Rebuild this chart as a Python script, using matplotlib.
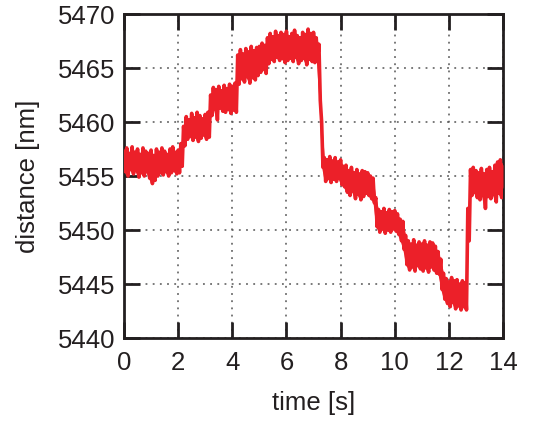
import numpy as np
import matplotlib
matplotlib.use("Agg")
import matplotlib.pyplot as plt

plt.rcParams['font.family'] = ['Liberation Sans', 'DejaVu Sans']

# Sample times of the trace envelope [s], one sample every 0.1 s
time_s = [round(0.1 * k, 1) for k in range(141)]

# Upper excursions of the measured distance [nm] at each sample time
dist_upper = [
    5457.3, 5457.6, 5457.1, 5457.7, 5457.2, 5457.5, 5457.0, 5457.6, 5457.3, 5457.1,
    5457.4, 5456.9, 5457.5, 5457.2, 5457.6, 5457.3, 5457.0, 5457.5, 5457.7, 5457.2,
    5457.4, 5458.0, 5459.6, 5460.5, 5460.2, 5460.8, 5460.4, 5460.9, 5460.6, 5460.3,
    5460.7, 5460.9, 5462.5, 5463.2, 5463.0, 5463.3, 5462.9, 5463.4, 5463.1, 5463.5,
    5463.3, 5463.6, 5466.2, 5466.7, 5466.3, 5466.8, 5466.5, 5467.0, 5466.6, 5466.9,
    5467.0, 5467.3, 5467.1, 5467.8, 5468.2, 5467.9, 5468.4, 5468.0, 5468.3, 5468.1,
    5468.4, 5467.9, 5468.2, 5468.5, 5468.0, 5467.8, 5468.3, 5468.1, 5468.6, 5468.2,
    5468.3, 5467.8, 5467.2, 5460.0, 5456.7, 5456.5, 5456.8, 5456.4, 5456.7, 5456.3,
    5456.5, 5455.9, 5456.0, 5455.5, 5455.8, 5455.3, 5455.6, 5455.2, 5455.5, 5455.4,
    5455.3, 5455.0, 5454.8, 5453.0, 5451.9, 5451.7, 5452.0, 5451.6, 5451.9, 5451.7,
    5451.8, 5451.5, 5451.0, 5450.8, 5449.5, 5449.0, 5448.7, 5449.1, 5448.6, 5448.9,
    5448.7, 5449.0, 5448.6, 5448.9, 5448.8, 5448.5, 5448.0, 5447.3, 5446.0, 5445.5,
    5445.2, 5445.6, 5445.3, 5445.4, 5445.0, 5445.3, 5445.1, 5452.0, 5455.6, 5455.8,
    5455.5, 5455.3, 5455.7, 5455.2, 5455.6, 5455.8, 5455.4, 5456.0, 5456.3, 5456.5,
    5456.0,
]

# Lower excursions of the measured distance [nm], half a sample later
dist_lower = [
    5455.4, 5455.0, 5455.6, 5455.2, 5455.5, 5454.9, 5455.3, 5455.0, 5455.4, 5454.8,
    5454.3, 5454.6, 5455.0, 5455.3, 5455.1, 5455.4, 5455.0, 5455.3, 5455.5, 5455.2,
    5455.3, 5455.9, 5457.8, 5458.4, 5458.7, 5458.3, 5458.6, 5458.2, 5458.5, 5458.8,
    5458.4, 5458.6, 5460.6, 5461.2, 5460.2, 5461.3, 5461.0, 5460.9, 5461.2, 5460.8,
    5461.1, 5460.9, 5463.5, 5464.0, 5463.7, 5464.2, 5463.6, 5464.1, 5463.9, 5464.3,
    5464.6, 5464.9, 5464.5, 5465.4, 5465.8, 5465.6, 5466.0, 5465.7, 5465.9, 5465.5,
    5465.7, 5465.9, 5465.6, 5466.0, 5465.4, 5465.7, 5465.9, 5465.3, 5465.8, 5465.6,
    5465.5, 5465.8, 5462.0, 5455.8, 5454.5, 5454.8, 5454.4, 5454.7, 5454.5, 5454.8,
    5454.2, 5454.0, 5453.5, 5453.2, 5453.6, 5452.9, 5453.3, 5452.8, 5453.1, 5453.4,
    5453.2, 5452.9, 5452.5, 5450.3, 5449.8, 5450.1, 5449.7, 5450.0, 5449.8, 5450.1,
    5449.9, 5449.6, 5449.0, 5448.2, 5446.8, 5446.3, 5446.6, 5446.2, 5446.7, 5446.4,
    5446.2, 5446.5, 5446.1, 5446.6, 5446.3, 5446.0, 5445.9, 5444.5, 5443.6, 5443.2,
    5442.9, 5443.3, 5442.7, 5443.0, 5442.6, 5442.9, 5442.6, 5449.0, 5453.2, 5453.5,
    5453.0, 5452.8, 5453.2, 5452.0, 5453.1, 5452.9, 5453.3, 5452.6, 5453.4, 5453.0,
    5454.0,
]

x_ticks = [0, 2, 4, 6, 8, 10, 12, 14]
y_ticks = [5440, 5445, 5450, 5455, 5460, 5465, 5470]

TRACE_RED = '#ec2029'

# Interleave the upper and lower excursions into one continuous trace
t_trace = []
d_trace = []
for t, hi, lo in zip(time_s, dist_upper, dist_lower):
    t_trace += [t, t + 0.05]
    d_trace += [hi, lo]

fig = plt.figure(figsize=(5.34, 4.22), dpi=100)
ax = fig.add_axes([0.2322, 0.199, 0.7098, 0.7678])

# Solid body of the noisy trace, then the jagged trace on top
ax.fill_between(time_s, dist_lower, dist_upper, color=TRACE_RED, linewidth=0,
                zorder=3)
ax.plot(t_trace, d_trace, color=TRACE_RED, linewidth=2.6, solid_joinstyle='round',
        solid_capstyle='round', zorder=3)

ax.set_xlim(0, 14)
ax.set_ylim(5440, 5470)
ax.set_xticks(x_ticks)
ax.set_yticks(y_ticks)

ax.grid(True, color='#555555', linestyle=(0, (1.2, 3.5)), linewidth=1.1)
ax.set_axisbelow(True)

for sp in ax.spines.values():
    sp.set_linewidth(2.0)
    sp.set_color('#231f20')

ax.tick_params(axis='both', which='major', direction='in', length=11.5, width=2.0,
               color='#231f20', top=True, right=True, labelsize=18.5,
               labelcolor='#231f20')
ax.tick_params(axis='x', pad=9)
ax.tick_params(axis='y', pad=6)

ax.set_xlabel('time [s]', fontsize=18.5, color='#231f20', labelpad=12)
ax.set_ylabel('distance [nm]', fontsize=18.5, color='#231f20', labelpad=13)

fig.savefig('out.png', dpi=100)
